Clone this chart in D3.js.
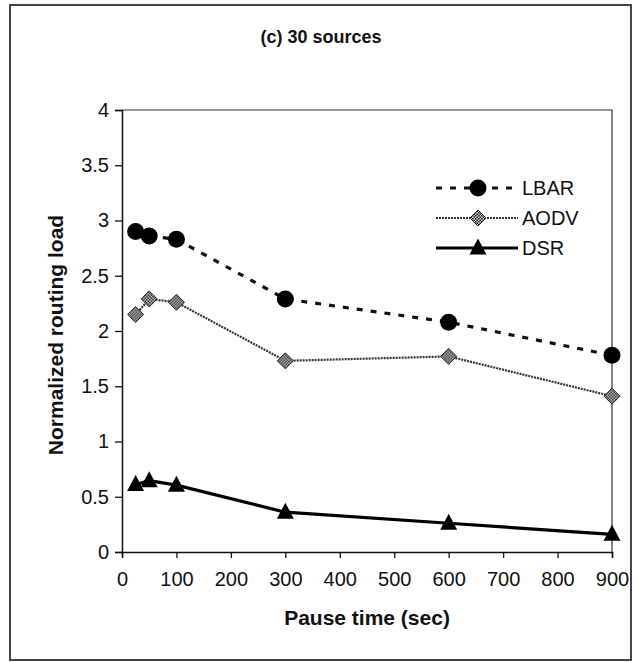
<!DOCTYPE html>
<html>
<head>
<meta charset="utf-8">
<script src="https://cdn.jsdelivr.net/npm/d3@7"></script>
<style>
  body { margin: 0; background: #fff; }
  text { font-family: "Liberation Sans", Arial, sans-serif; fill: #111; }
</style>
</head>
<body>
<div id="chart"></div>
<script>
var pauseTimes = [25, 50, 100, 300, 600, 900];
var lbar = [2.9, 2.86, 2.83, 2.29, 2.08, 1.78];
var aodv = [2.15, 2.29, 2.26, 1.73, 1.77, 1.41];
var dsr = [0.61, 0.645, 0.605, 0.36, 0.26, 0.16];
var xTicks = [0, 100, 200, 300, 400, 500, 600, 700, 800, 900];
var yTicks = [0, 0.5, 1, 1.5, 2, 2.5, 3, 3.5, 4];
var seriesNames = ["LBAR", "AODV", "DSR"];

var svg = d3.select("#chart")
  .append("svg")
  .attr("width", 637)
  .attr("height", 662);

var margin = {top: 110, right: 25, bottom: 110, left: 122},
    width = 612 - margin.left,
    height = 552 - margin.top;

// checkered fill for AODV diamonds
var defs = svg.append("defs");
var pat = defs.append("pattern")
  .attr("id", "checker")
  .attr("width", 3).attr("height", 3)
  .attr("patternUnits", "userSpaceOnUse");
pat.append("rect").attr("width", 3).attr("height", 3).attr("fill", "#ddd");
pat.append("rect").attr("width", 1.5).attr("height", 1.5).attr("fill", "#111");
pat.append("rect").attr("x", 1.5).attr("y", 1.5).attr("width", 1.5).attr("height", 1.5).attr("fill", "#111");

// outer frame
svg.append("rect")
  .attr("x", 10).attr("y", 5)
  .attr("width", 621).attr("height", 655)
  .attr("fill", "none")
  .attr("stroke", "#444")
  .attr("stroke-width", 2);

svg.append("text")
  .attr("x", 321).attr("y", 43)
  .attr("text-anchor", "middle")
  .style("font-size", "18px")
  .style("font-weight", "bold")
  .text("(c) 30 sources");

var x = d3.scaleLinear().domain([0, 900]).range([0, width]);
var y = d3.scaleLinear().domain([0, 4]).range([height, 0]);

var g = svg.append("g")
  .attr("transform", "translate(" + margin.left + "," + margin.top + ")");

// plot box (top and right edges)
g.append("path")
  .attr("d", "M0,0H" + width + "V" + height)
  .attr("fill", "none")
  .attr("stroke", "#333")
  .attr("stroke-width", 1.2);

var xAxis = g.append("g")
  .attr("transform", "translate(0," + height + ")")
  .call(d3.axisBottom(x).tickValues(xTicks).tickSize(6).tickPadding(14).tickFormat(d3.format("d")));

var yAxis = g.append("g")
  .call(d3.axisLeft(y).tickValues(yTicks).tickSize(7).tickPadding(6).tickFormat(function(d) { return d; }));

[xAxis, yAxis].forEach(function(a) {
  a.select(".domain").attr("stroke", "#111").attr("stroke-width", 1.5);
  a.selectAll(".tick line").attr("stroke", "#111").attr("stroke-width", 1.3);
  a.selectAll("text").style("font-size", "20px").attr("fill", "#111");
});

svg.append("text")
  .attr("x", margin.left + width / 2).attr("y", 625)
  .attr("text-anchor", "middle")
  .style("font-size", "21px")
  .style("font-weight", "bold")
  .text("Pause time (sec)");

svg.append("text")
  .attr("transform", "translate(63," + (margin.top + height / 2 + 4) + ") rotate(-90)")
  .attr("text-anchor", "middle")
  .style("font-size", "21px")
  .style("font-weight", "bold")
  .text("Normalized routing load");

var line = d3.line()
  .x(function(d, i) { return x(pauseTimes[i]); })
  .y(function(d) { return y(d); });

var styles = {
  LBAR: {stroke: "#111", width: 3.2, dash: "6,8"},
  AODV: {stroke: "#333", width: 2.2, dash: "2,1"},
  DSR: {stroke: "#000", width: 3.2, dash: null}
};

function drawMarker(sel, name) {
  if (name === "LBAR") {
    sel.append("circle").attr("r", 8.5).attr("fill", "#000");
  } else if (name === "AODV") {
    sel.append("path")
      .attr("d", "M0,-8L8,0L0,8L-8,0Z")
      .attr("fill", "url(#checker)")
      .attr("stroke", "#222").attr("stroke-width", 1);
  } else {
    sel.append("path")
      .attr("d", "M0,-9.5L8.5,6.5L-8.5,6.5Z")
      .attr("fill", "#000");
  }
}

var allSeries = [lbar, aodv, dsr];

allSeries.forEach(function(vals, k) {
  var name = seriesNames[k], st = styles[name];
  g.append("path")
    .datum(vals)
    .attr("d", line)
    .attr("fill", "none")
    .attr("stroke", st.stroke)
    .attr("stroke-width", st.width)
    .attr("stroke-dasharray", st.dash);

  g.selectAll(".pt" + k)
    .data(vals)
    .enter().append("g")
    .attr("transform", function(d, i) { return "translate(" + x(pauseTimes[i]) + "," + y(d) + ")"; })
    .each(function() { drawMarker(d3.select(this), name); });
});

// legend
var legend = svg.selectAll(".legend")
  .data(seriesNames)
  .enter().append("g")
  .attr("class", "legend")
  .attr("transform", function(d, i) { return "translate(436," + (188 + i * 30) + ")"; });

legend.append("line")
  .attr("x1", 0).attr("x2", 82)
  .attr("stroke", function(d) { return styles[d].stroke; })
  .attr("stroke-width", function(d) { return styles[d].width; })
  .attr("stroke-dasharray", function(d) { return styles[d].dash; });

legend.append("g")
  .attr("transform", "translate(42,0)")
  .each(function(d) { drawMarker(d3.select(this), d); });

legend.append("text")
  .attr("x", 86)
  .attr("dy", "0.36em")
  .style("font-size", "20px")
  .text(function(d) { return d; });
</script>
</body>
</html>
